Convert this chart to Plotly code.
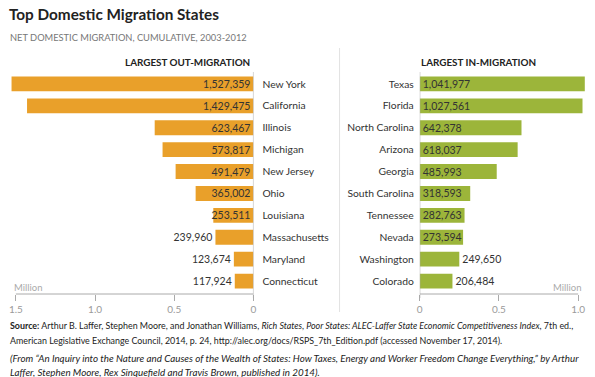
import plotly.graph_objects as go
from plotly.subplots import make_subplots

out_states = ["New York", "California", "Illinois", "Michigan", "New Jersey",
              "Ohio", "Louisiana", "Massachusetts", "Maryland", "Connecticut"]
out_values = [1527359, 1429475, 623467, 573817, 491479, 365002, 253511, 239960, 123674, 117924]
out_textpos = ["inside"] * 7 + ["outside"] * 3

in_states = ["Texas", "Florida", "North Carolina", "Arizona", "Georgia",
             "South Carolina", "Tennessee", "Nevada", "Washington", "Colorado"]
in_values = [1041977, 1027561, 642378, 618037, 485993, 318593, 282763, 273594, 249650, 206484]
in_textpos = ["inside"] * 8 + ["outside"] * 2

left_ticks = [1.5, 1.0, 0.5, 0]
left_ticktext = ["1.5", "1.0", "0.5", "0"]
right_ticks = [0, 0.5, 1.0]
right_ticktext = ["0", "0.5", "1.0"]

W, H = 595, 377
TOP, BOT = 71, 294
FONT = "Lato"
ORANGE = "#E9A02A"
GREEN = "#9CB53A"
TXT = "#333333"
GRAY = "#9a9a9a"


def px_x(p):
    return p / W


def px_y(p):
    return (BOT - p) / (BOT - TOP)


fig = make_subplots(rows=1, cols=2)

idx = list(range(len(out_states)))

fig.add_trace(go.Bar(
    y=idx, x=[v / 1e6 for v in out_values], orientation="h",
    marker=dict(color=ORANGE, line=dict(width=0)), width=0.68,
    text=[f"{v:,}" for v in out_values], textposition=out_textpos,
    insidetextanchor="start", constraintext="none", cliponaxis=False,
    textfont=dict(family=FONT, size=10.5, color=TXT),
    hoverinfo="skip", showlegend=False), row=1, col=1)

fig.add_trace(go.Bar(
    y=idx, x=[v / 1e6 for v in in_values], orientation="h",
    marker=dict(color=GREEN, line=dict(width=0)), width=0.68,
    text=[f"{v:,}" for v in in_values], textposition=in_textpos,
    insidetextanchor="start", constraintext="none", cliponaxis=False,
    textfont=dict(family=FONT, size=10.5, color=TXT),
    hoverinfo="skip", showlegend=False), row=1, col=2)

fig.update_xaxes(domain=[px_x(5), px_x(253)], range=[1.55, 0], tickvals=left_ticks,
                 ticktext=left_ticktext, row=1, col=1)
fig.update_xaxes(domain=[px_x(421), px_x(590.6)], range=[0, 1.06], tickvals=right_ticks,
                 ticktext=right_ticktext, row=1, col=2)
fig.update_xaxes(showgrid=False, zeroline=False, showline=False, ticks="outside",
                 ticklen=6, tickcolor="#aaaaaa", tickwidth=1,
                 tickfont=dict(family=FONT, size=10, color=GRAY))

fig.update_yaxes(range=[9.59, -0.59], tickvals=idx, showgrid=False, zeroline=False,
                 showline=False, ticks="", tickfont=dict(family=FONT, size=10.3, color=TXT))
fig.update_yaxes(side="right", ticktext=out_states, ticklabelstandoff=8, row=1, col=1)
fig.update_yaxes(side="left", ticktext=in_states, ticklabelstandoff=5, row=1, col=2)

shapes = []
line = dict(color="#aaaaaa", width=1)
shapes.append(dict(type="line", xref="x", yref="paper", x0=1.5, x1=0, y0=0, y1=0, line=line))
shapes.append(dict(type="line", xref="x2", yref="paper", x0=0, x1=1.0, y0=0, y1=0, line=line))
shapes.append(dict(type="line", xref="x", yref="paper", x0=0, x1=0, y0=px_y(298), y1=px_y(72), line=line))
shapes.append(dict(type="line", xref="x2", yref="paper", x0=0, x1=0, y0=px_y(298), y1=px_y(72), line=line))
shapes.append(dict(type="line", xref="paper", yref="paper", x0=px_x(340), x1=px_x(340),
                   y0=px_y(312), y1=px_y(48), line=dict(color="#e2e2e2", width=1)))

ann = []


def add(text, x, y, size, color=TXT, xanchor="left", bold=False, family=FONT):
    ann.append(dict(text=f"<b>{text}</b>" if bold else text, x=px_x(x), y=px_y(y),
                    xref="paper", yref="paper", xanchor=xanchor, yanchor="middle",
                    showarrow=False, font=dict(family=family, size=size, color=color)))


add("Top Domestic Migration States", 4, 14, 15.3, color="#222222", bold=True)
add("NET DOMESTIC MIGRATION, CUMULATIVE, 2003-2012", 5, 37, 9.3, color="#777777")
add("LARGEST OUT-MIGRATION", 252, 62, 9.9, color="#222222", xanchor="right", bold=True)
add("LARGEST IN-MIGRATION", 420, 62, 9.9, color="#222222", bold=True)
add("Million", 9, 287, 9.5, color="#aaaaaa")
add("Million", 586, 287, 9.5, color="#aaaaaa", xanchor="right")
add("<b>Source:</b> Arthur B. Laffer, Stephen Moore, and Jonathan Williams, <i>Rich States, Poor States: "
    "ALEC-Laffer State Economic Competitiveness Index</i>, 7th ed.,", 5, 325, 8.9, color="#222222")
add("American Legislative Exchange Council, 2014, p. 24, http://alec.org/docs/RSPS_7th_Edition.pdf "
    "(accessed November 17, 2014).", 5, 340, 8.9, color="#222222")
add("<i>(From \u201cAn Inquiry into the Nature and Causes of the Wealth of States: How Taxes, Energy "
    "and Worker Freedom Change Everything,\u201d by Arthur</i>", 5, 358, 9.8, color="#222222")
add("<i>Laffer, Stephen Moore, Rex Sinquefield and Travis Brown, published in 2014).</i>",
    5, 372, 9.8, color="#222222")

fig.update_layout(width=W, height=H, margin=dict(l=0, r=0, t=TOP, b=H - BOT),
                  plot_bgcolor="white", paper_bgcolor="white",
                  font=dict(family=FONT), shapes=shapes, annotations=ann,
                  bargap=0.3)

fig.write_html("out.html", config={"displayModeBar": False},
               post_script="document.body.style.margin='0';document.body.style.overflow='hidden';")
